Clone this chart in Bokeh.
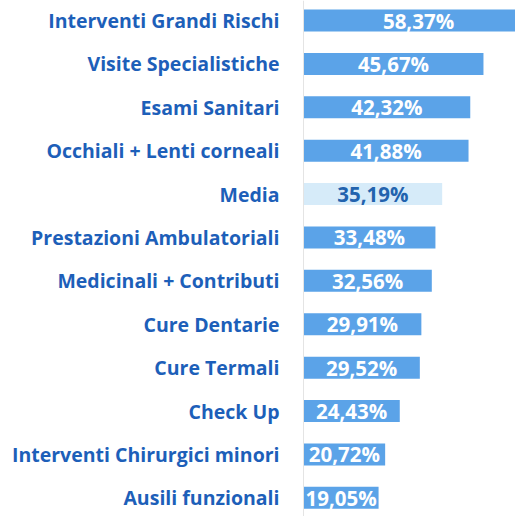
from bokeh.plotting import figure
from bokeh.models import Range1d, ColumnDataSource, Span
from bokeh.core.properties import value
from bokeh.embed import file_html
from bokeh.resources import INLINE

categories = ["Interventi Grandi Rischi", "Visite Specialistiche", "Esami Sanitari",
              "Occhiali + Lenti corneali", "Media", "Prestazioni Ambulatoriali",
              "Medicinali + Contributi", "Cure Dentarie", "Cure Termali", "Check Up",
              "Interventi Chirurgici minori", "Ausili funzionali"]
values = [58.37, 45.67, 42.32, 41.88, 35.19, 33.48, 32.56, 29.91, 29.52, 24.43, 20.72, 19.05]

BAR = "#5ba3e8"
MEDIA = "#d6ebf9"
LABEL = "#1d5fb9"

pos = list(range(len(categories)))
colors = [MEDIA if c == "Media" else BAR for c in categories]
txt_colors = ["#2263ae" if c == "Media" else "#ffffff" for c in categories]
vlabels = [f"{v:.2f}%".replace(".", ",") for v in values]
src = ColumnDataSource(dict(y=pos, v=values, mid=[v / 2 for v in values], cat=categories,
                            col=colors, tcol=txt_colors, lab=vlabels, zero=[0] * len(pos)))

p = figure(width=515, height=516, output_backend="svg", toolbar_location=None,
           x_range=Range1d(-76.9, 53.8), y_range=Range1d(11.43, -0.461),
           min_border=0)
p.axis.visible = False
p.grid.visible = False
p.outline_line_color = None
p.background_fill_color = "white"

p.add_layout(Span(location=0, dimension="height", line_color="#e4e4e4", line_width=1))

p.hbar(y="y", left=0, right="v", height=0.507, fill_color="col", line_color=None, source=src)

p.text(x="mid", y="y", text="lab", text_color="tcol", text_align="center",
       text_baseline="middle", text_font=value("Open Sans"), text_font_style="bold",
       text_font_size="20.5px", source=src)

p.text(x="zero", y="y", text="cat", text_color=LABEL, text_align="right",
       text_baseline="middle", x_offset=-24, text_font=value("Open Sans"),
       text_font_style="bold", text_font_size="19.5px", source=src)

open("out.html", "w").write(file_html(p, INLINE))
